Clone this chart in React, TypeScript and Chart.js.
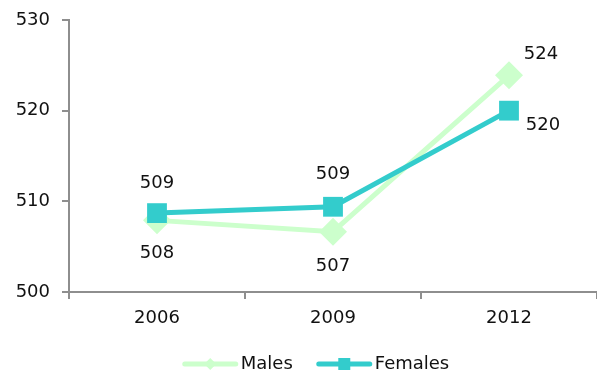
import React, { useEffect, useRef } from "react";
import { Chart, registerables } from "chart.js";

Chart.register(...registerables);

// Mean scores by year
const years = ["2006", "2009", "2012"];
const males = [507.9, 506.65, 523.9];
const females = [508.7, 509.4, 520.0];
const seriesNames = ["Males", "Females"];

const MALE_COLOR = "#ccffcc";
const FEMALE_COLOR = "#33cccc";
const TEXT_COLOR = "#111111";
const AXIS_COLOR = "#8e8e8e";
const FONT_FAMILY = "'DejaVu Sans', Verdana, sans-serif";
const FONT_SIZE = 18;

// Label offsets (px) from each point, per series
const maleLabelOffsets: [number, number][] = [[0, 33], [0, 35], [32, -21]];
const femaleLabelOffsets: [number, number][] = [[0, -30], [0, -32], [34, 15]];

const valueLabels = {
  id: "valueLabels",
  afterDatasetsDraw(chart: any) {
    const ctx = chart.ctx;
    const offsets = [maleLabelOffsets, femaleLabelOffsets];
    ctx.save();
    ctx.font = `${FONT_SIZE}px ${FONT_FAMILY}`;
    ctx.fillStyle = TEXT_COLOR;
    ctx.textAlign = "center";
    ctx.textBaseline = "middle";
    chart.data.datasets.forEach((ds: any, di: number) => {
      const meta = chart.getDatasetMeta(di);
      meta.data.forEach((pt: any, i: number) => {
        const [dx, dy] = offsets[di][i];
        ctx.fillText(String(Math.round(ds.data[i])), pt.x + dx, pt.y + dy);
      });
    });
    ctx.restore();
  },
};

const lineLegend = {
  id: "lineLegend",
  afterDraw(chart: any) {
    const ctx = chart.ctx;
    const y = 364;
    const lineLen = 55;
    const textGap = 3;
    const itemGap = 24;
    ctx.save();
    ctx.font = `${FONT_SIZE}px ${FONT_FAMILY}`;
    const ds = chart.data.datasets;
    const widths = ds.map((d: any) => lineLen + textGap + ctx.measureText(d.label).width);
    const total = widths.reduce((a: number, b: number) => a + b, 0) + itemGap * (ds.length - 1);
    let x = 316 - total / 2;
    ds.forEach((d: any, i: number) => {
      ctx.strokeStyle = d.borderColor;
      ctx.lineWidth = 5;
      ctx.lineCap = "round";
      ctx.beginPath();
      ctx.moveTo(x + 2, y);
      ctx.lineTo(x + lineLen - 2, y);
      ctx.stroke();
      ctx.fillStyle = d.backgroundColor;
      const cx = x + lineLen / 2;
      if (d.pointStyle === "rect") {
        ctx.fillRect(cx - 6, y - 6, 12, 12);
      } else {
        ctx.beginPath();
        ctx.moveTo(cx - 6, y);
        ctx.lineTo(cx, y - 6);
        ctx.lineTo(cx + 6, y);
        ctx.lineTo(cx, y + 6);
        ctx.closePath();
        ctx.fill();
      }
      ctx.fillStyle = TEXT_COLOR;
      ctx.textAlign = "left";
      ctx.textBaseline = "middle";
      ctx.fillText(d.label, x + lineLen + textGap, y);
      x += widths[i] + itemGap;
    });
    ctx.restore();
  },
};

export default function App() {
  const canvasRef = useRef<HTMLCanvasElement | null>(null);

  useEffect(() => {
    if (!canvasRef.current) return;
    const chart = new Chart(canvasRef.current, {
      type: "line",
      data: {
        labels: years,
        datasets: [
          {
            label: seriesNames[0],
            data: males,
            borderColor: MALE_COLOR,
            backgroundColor: MALE_COLOR,
            borderWidth: 5,
            pointStyle: "rectRot",
            pointRadius: 14,
            pointHoverRadius: 14,
            pointBorderWidth: 0,
            order: 1,
            tension: 0,
            clip: false,
          },
          {
            label: seriesNames[1],
            data: females,
            borderColor: FEMALE_COLOR,
            backgroundColor: FEMALE_COLOR,
            borderWidth: 5,
            pointStyle: "rect",
            pointRadius: 14,
            pointHoverRadius: 14,
            pointBorderWidth: 0,
            order: 0,
            tension: 0,
            clip: false,
          },
        ],
      },
      options: {
        responsive: false,
        animation: false,
        layout: { autoPadding: false, padding: { top: 20, right: 0, bottom: 0, left: 0 } },
        plugins: {
          legend: { display: false },
          tooltip: { enabled: false },
        },
        scales: {
          x: {
            offset: true,
            grid: {
              offset: true,
              drawOnChartArea: false,
              drawTicks: true,
              tickLength: 7,
              color: AXIS_COLOR,
              lineWidth: 2,
            },
            border: { color: AXIS_COLOR, width: 2 },
            ticks: {
              color: TEXT_COLOR,
              padding: 9,
              font: { family: FONT_FAMILY, size: FONT_SIZE },
            },
            afterFit(scale: any) {
              scale.height = 84;
              scale.paddingLeft = 0;
              scale.paddingRight = 0;
            },
          },
          y: {
            min: 500,
            max: 530,
            grid: {
              drawOnChartArea: false,
              drawTicks: true,
              tickLength: 7,
              color: AXIS_COLOR,
              lineWidth: 2,
            },
            border: { color: AXIS_COLOR, width: 2 },
            ticks: {
              stepSize: 10,
              color: TEXT_COLOR,
              padding: 12,
              font: { family: FONT_FAMILY, size: FONT_SIZE },
            },
            afterFit(scale: any) {
              scale.width = 69;
              scale.paddingTop = 0;
              scale.paddingBottom = 0;
            },
          },
        },
      },
      plugins: [valueLabels, lineLegend],
    });
    return () => chart.destroy();
  }, []);

  return (
    <div style={{ position: "absolute", left: 0, top: 0, width: 597, height: 376, background: "#fff" }}>
      <canvas ref={canvasRef} width={597} height={376} />
    </div>
  );
}
